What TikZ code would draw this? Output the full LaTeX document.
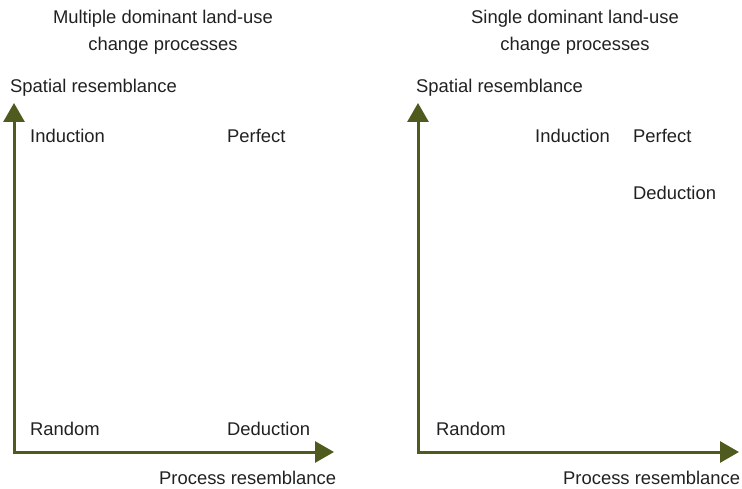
\documentclass[tikz,border=0pt]{standalone}
\usepackage{fontspec}
\setmainfont{Liberation Sans}
\usetikzlibrary{arrows.meta}
\definecolor{axisgreen}{RGB}{78,90,30}
\tikzset{
	axis/.style={draw=axisgreen, line width=3pt, {Triangle[length=19pt,width=21pt]}-{Triangle[length=19pt,width=21pt]}},
	lbl/.style={anchor=base west, inner sep=0pt, text=black!87},
	title/.style={anchor=base, inner sep=0pt, align=center, text=black!87}
}
\begin{document}
\begin{tikzpicture}[x=1pt, y=-1pt, font=\fontsize{18.4}{27}\selectfont]
	\useasboundingbox (0,0) rectangle (742,489);
	
	% left panel
	\node [title] (titleL) at (163,51) {Multiple dominant land-use\\change processes};
	\coordinate (oL) at (14,452);
	\coordinate (yL) at (14,103);
	\coordinate (xL) at (334,452);
	\draw [axis] (yL) -- (oL) -- (xL);
	\node [lbl] (spatialL) at (10,93) {Spatial resemblance};
	\node [lbl] (inducL) at (30,143) {Induction};
	\node [lbl] (perfL) at (227,143) {Perfect};
	\node [lbl] (randL) at (30,435) {Random};
	\node [lbl] (deducL) at (227,435) {Deduction};
	\node [lbl] (processL) at (159,484) {Process resemblance};
	
	% right panel
	\node [title] (titleR) at (575,51) {Single dominant land-use\\change processes};
	\coordinate (oR) at (418,452);
	\coordinate (yR) at (418,103);
	\coordinate (xR) at (739,452);
	\draw [axis] (yR) -- (oR) -- (xR);
	\node [lbl] (spatialR) at (416,93) {Spatial resemblance};
	\node [lbl] (inducR) at (535,143) {Induction};
	\node [lbl] (perfR) at (633,143) {Perfect};
	\node [lbl] (deducR) at (633,200) {Deduction};
	\node [lbl] (randR) at (436,435) {Random};
	\node [lbl] (processR) at (563,484) {Process resemblance};
	
\end{tikzpicture}
\end{document}
